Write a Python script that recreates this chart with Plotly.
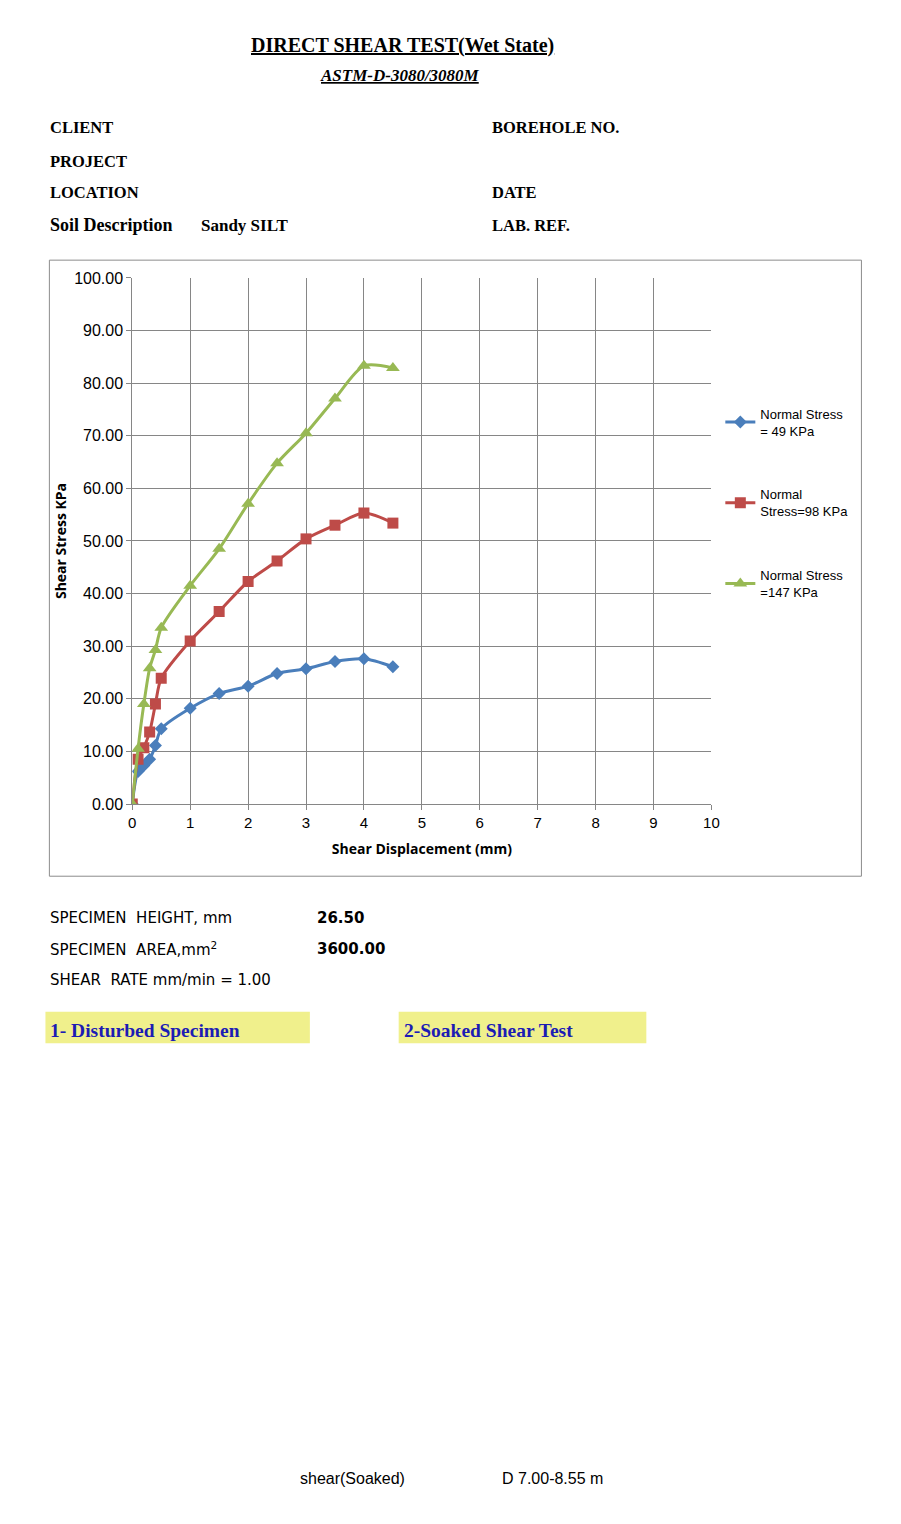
import plotly.graph_objs as go

# shear displacement (mm)
displacement = [0, 0.1, 0.2, 0.3, 0.4, 0.5, 1, 1.5, 2, 2.5, 3, 3.5, 4, 4.5]

# shear stress (KPa) for each normal stress
stress_49 = [0, 6.2, 7.3, 8.5, 11.1, 14.3, 18.2, 21.0, 22.4, 24.8, 25.7, 27.1, 27.6, 26.1]
stress_98 = [0, 8.5, 10.7, 13.7, 19.0, 23.9, 31.0, 36.6, 42.3, 46.2, 50.4, 53.0, 55.3, 53.4]
stress_147 = [0, 10.5, 19.0, 25.8, 29.3, 33.5, 41.5, 48.5, 57.1, 64.8, 70.5, 77.1, 83.3, 82.9]

series_names = ["Normal Stress<br>= 49 KPa", "Normal<br>Stress=98 KPa", "Normal Stress<br>=147 KPa"]
series_colors = ["#4a7ebb", "#be4b48", "#98b954"]
series_symbols = ["diamond", "square", "triangle-up"]
marker_sizes = [10, 11, 12]

x_ticks = list(range(0, 11))
y_ticks = list(range(0, 101, 10))

W, H = 901, 1524


def px(x):
    return x / W


def py(y):
    return 1 - y / H


fig = go.Figure()

for i, ys in enumerate([stress_49, stress_98, stress_147]):
    fig.add_trace(go.Scatter(
        x=displacement,
        y=ys,
        mode='lines+markers',
        name=series_names[i],
        legendgroup=str(i),
        line=dict(color=series_colors[i], width=3, shape='spline', smoothing=0.8),
        marker=dict(symbol=series_symbols[i], size=marker_sizes[i], color=series_colors[i]),
    ))

serif = "Liberation Serif"
sans = "DejaVu Sans"

annotations = []


def txt(x, y, text, size=16.5, family=serif, color="black", xanchor="left"):
    annotations.append(dict(
        x=px(x), y=py(y), xref="paper", yref="paper", text=text, showarrow=False,
        xanchor=xanchor, yanchor="middle", font=dict(family=family, size=size, color=color)
    ))


# header
txt(404, 38, "<b><u>DIRECT SHEAR TEST(Wet State)</u></b>", size=20, xanchor="center")
txt(401, 68, "<b><i><u>ASTM-D-3080/3080M</u></i></b>", size=17, xanchor="center")

txt(45, 121, "<b>CLIENT</b>")
txt(45, 155, "<b>PROJECT</b>")
txt(45, 187, "<b>LOCATION</b>")
txt(45, 219, "<b>Soil Description</b>", size=18)
txt(198, 220, "<b>Sandy SILT</b>", size=17)
txt(493, 121, "<b>BOREHOLE NO.</b>")
txt(493, 187, "<b>DATE</b>")
txt(493, 220, "<b>LAB. REF.</b>")

# specimen info
txt(45, 920, "SPECIMEN  HEIGHT, mm", size=15, family=sans)
txt(315, 920, "<b>26.50</b>", size=15, family=sans)
txt(45, 952, "SPECIMEN  AREA,mm<sup>2</sup>", size=15, family=sans)
txt(315, 952, "<b>3600.00</b>", size=15, family=sans)
txt(45, 983, "SHEAR  RATE mm/min = 1.00", size=15, family=sans)

txt(45, 1034, "<b>1- Disturbed Specimen</b>", size=19.5, color="#1c1cb4")
txt(403, 1034, "<b>2-Soaked Shear Test</b>", size=19.5, color="#1c1cb4")

txt(353, 1487, "shear(Soaked)", size=16, family="Liberation Sans", xanchor="center")
txt(503, 1487, "D 7.00-8.55 m", size=16, family="Liberation Sans")

shapes = [
    # chart frame
    dict(type="rect", xref="paper", yref="paper", x0=px(46), x1=px(869), y0=py(878), y1=py(255),
         line=dict(color="#8c8c8c", width=1), layer="below"),
    # yellow boxes
    dict(type="rect", xref="paper", yref="paper", x0=px(42), x1=px(310), y0=py(1047), y1=py(1015),
         fillcolor="#f0f08c", line=dict(width=0), layer="below"),
    dict(type="rect", xref="paper", yref="paper", x0=px(400), x1=px(651), y0=py(1047), y1=py(1015),
         fillcolor="#f0f08c", line=dict(width=0), layer="below"),
]

fig.update_layout(
    width=W,
    height=H,
    margin=dict(l=0, r=0, t=0, b=0),
    paper_bgcolor="white",
    plot_bgcolor="white",
    annotations=annotations,
    shapes=shapes,
    showlegend=True,
    legend=dict(
        x=px(726), y=py(395), xanchor="left", yanchor="top",
        font=dict(family="Liberation Sans", size=13, color="black"),
        traceorder="grouped", tracegroupgap=44, itemwidth=30,
        bgcolor="rgba(0,0,0,0)",
    ),
    xaxis=dict(
        domain=[px(130), px(717)],
        range=[0, 10],
        tickvals=x_ticks,
        ticks="outside", ticklen=5, tickcolor="#868686",
        showgrid=True, gridcolor="#868686", gridwidth=1,
        showline=True, linecolor="#868686", mirror=False,
        zeroline=False,
        tickfont=dict(family="Liberation Sans", size=15, color="black"),
        title=dict(text="<b>Shear Displacement (mm)</b>", font=dict(family="Open Sans", size=14, color="black"), standoff=14),
        fixedrange=True,
    ),
    yaxis=dict(
        domain=[py(805), py(273)],
        range=[0, 100],
        tickvals=y_ticks,
        tickformat=".2f",
        ticks="outside", ticklen=5, tickcolor="#868686",
        showgrid=True, gridcolor="#868686", gridwidth=1,
        showline=True, linecolor="#868686",
        zeroline=False,
        tickfont=dict(family="Liberation Sans", size=16, color="black"),
        title=dict(text="<b>Shear Stress KPa</b>", font=dict(family="Open Sans", size=14, color="black"), standoff=4),
        fixedrange=True,
    ),
)

# drop the default page margin so the figure sits at the window's corner
fig.write_html("out.html", config={"displayModeBar": False},
               post_script="document.body.style.margin='0';")
